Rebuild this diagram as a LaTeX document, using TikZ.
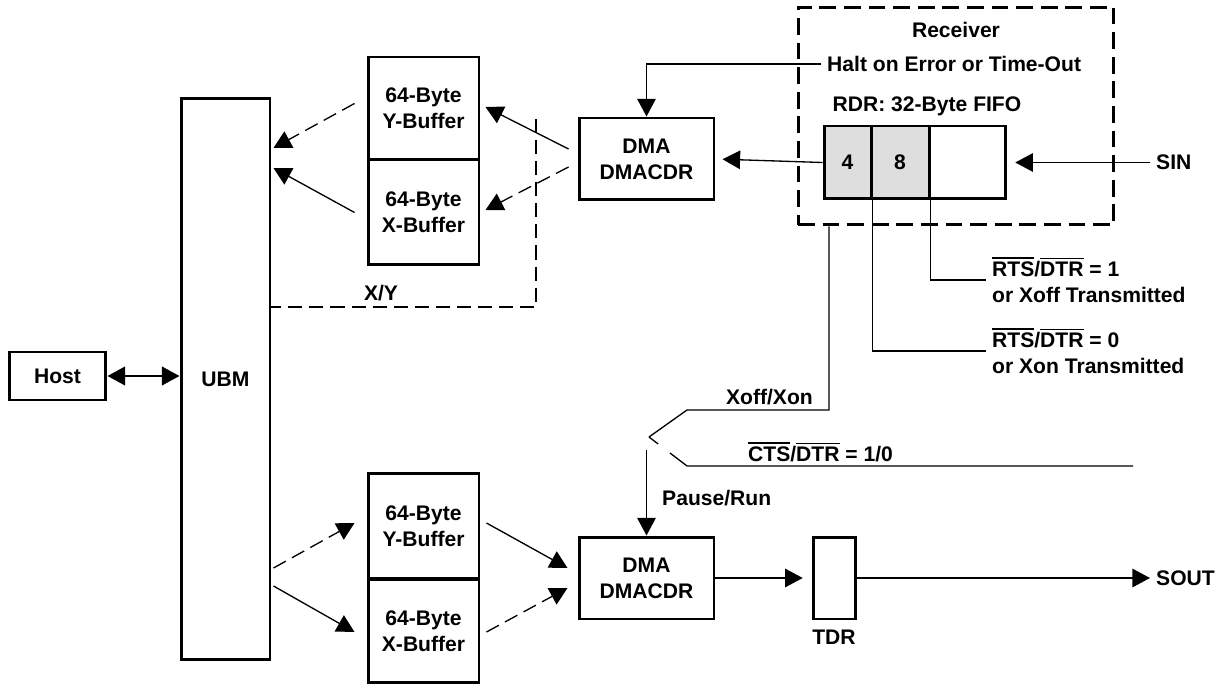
\documentclass[tikz,border=0pt]{standalone}
\usepackage{fontspec}
\setmainfont{Liberation Sans}
\usetikzlibrary{calc}
\usetikzlibrary{positioning}
\usetikzlibrary{arrows.meta}

\newcommand{\topbar}[1]{\leavevmode\vbox{\hrule height 1pt \kern 1.4pt \hbox{#1}}}

\begin{document}
\begin{tikzpicture}[x=0.02cm, y=-0.02cm,
        font=\fontsize{12}{14.8}\selectfont\bfseries,
        blk/.style={draw, line width=1.7pt, align=center, inner sep=0pt},
        wire/.style={line width=0.75pt},
        dwire/.style={line width=0.75pt, dash pattern=on 8pt off 4pt},
        tip/.style={-{Triangle[length=10pt,width=10.5pt]}}]

            \useasboundingbox (0,0) rectangle (1220,685);

            % Host and UBM
            \node[blk, minimum width=1.94cm, minimum height=0.96cm] (host) at (57.5,376) {Host};
            \node[blk, minimum width=1.78cm, minimum height=11.24cm] (ubm) at (225.5,379) {UBM};
            \draw[line width=1.4pt, {Triangle[length=10pt,width=10.5pt]}-{Triangle[length=10pt,width=10.5pt]}] (host.east) -- (host.east -| ubm.west);

            % Buffer stacks
            \foreach \s/\ya/\ha/\yb/\hb in {U/108.5/2.06/212.5/2.1, L/526/2.12/631/2.08} {
                \node[blk, minimum width=2.22cm, minimum height=\ha cm] (ybuf\s) at (423.5,\ya) {64-Byte\\Y-Buffer};
                \node[blk, minimum width=2.22cm, minimum height=\hb cm] (xbuf\s) at (423.5,\yb) {64-Byte\\X-Buffer};
            }

            % DMA blocks and TDR
            \node[blk, minimum width=2.7cm, minimum height=1.64cm] (dmaU) at (646.5,159) {DMA\\DMACDR};
            \node[blk, minimum width=2.7cm, minimum height=1.64cm] (dmaL) at (646.5,578) {DMA\\DMACDR};
            \node[blk, minimum width=0.84cm, minimum height=1.64cm] (tdr) at (834,578) {};
            \node (tdrl) at (834,637) {TDR};

            % Receiver
            \node[draw, line width=1.7pt, dash pattern=on 9.5pt off 4.5pt, minimum width=6.32cm, minimum height=4.36cm] (rcv) at (956,116) {};
            \node (rcvl) at (956,30) {Receiver};
            \node[anchor=west] (halt) at (821,64) {Halt on Error or Time-Out};
            \node (rdrl) at (927,106) {RDR: 32-Byte FIFO};

            % FIFO cells
            \node[blk, fill=black!13, minimum width=0.94cm, minimum height=1.46cm] (c4) at (847.5,162.5) {4};
            \node[blk, fill=black!13, minimum width=1.16cm, minimum height=1.46cm] (c8) at (900,162.5) {8};
            \node[blk, minimum width=1.52cm, minimum height=1.46cm] (cE) at (967,162.5) {};

            % Receive path
            \draw[wire, tip] (halt.west) -| (dmaU.north);
            \draw[wire, tip, shorten >=4pt] (c4.west) -- (dmaU.east);
            \node[anchor=west] (sin) at (1150,162.5) {SIN};
            \draw[wire, tip, shorten >=5pt] (sin.west) -- (sin.west -| cE.east);

            % Flow control outputs
            \node[anchor=west, align=left] (rts1) at (986,280) {\topbar{RTS}/\topbar{DTR} = 1\\or Xoff Transmitted};
            \node[anchor=west, align=left] (rts0) at (986,351) {\topbar{RTS}/\topbar{DTR} = 0\\or Xon Transmitted};
            \draw[wire] (c8.south east) |- (rts1.west);
            \draw[wire] (c4.south east) |- (rts0.west);

            % Xoff/Xon switch
            \coordinate (xcorner) at (829,410);
            \coordinate (xbend) at (687,410);
            \coordinate (pivot) at (649,437);
            \coordinate (ctsbend) at (687,466);
            \coordinate (ctsend) at (1133,466);
            \draw[wire] (xcorner |- rcv.south) -- (xcorner) -- (xbend) -- (pivot);
            \draw[wire] (ctsend) -- (ctsbend) -- ($(ctsbend)!0.45!(pivot)$);
            \draw[wire] ($(ctsbend)!0.76!(pivot)$) -- (pivot);
            \node[anchor=east] (xoffl) at (819,397) {Xoff/Xon};
            \node[anchor=west] (ctsl) at (742,452) {\topbar{CTS}/\topbar{DTR} = 1/0};

            % Transmit path
            \coordinate (ptop) at (646.5,450);
            \draw[wire, tip] (ptop) -- (dmaL.north);
            \node[anchor=west] (pausel) at (656,498) {Pause/Run};
            \draw[wire, tip, shorten >=5pt] (dmaL.east) -- (tdr.west);
            \node[anchor=west] (sout) at (1150,578) {SOUT};
            \draw[wire, tip] (tdr.east) -- (sout.west);

            % Upper buffer arrows
            \draw[dwire, tip] ($(ybufU.west)+(-12,-5)$) -- ($(ubm.east)+(2,-231)$);
            \draw[wire, tip] ($(xbufU.west)+(-12,0)$) -- ($(ubm.east)+(2,-211)$);
            \draw[wire, tip] ($(dmaU.west)+(-9,-10)$) -- ($(ybufU.east)+(5,-1.5)$);
            \draw[dwire, tip] ($(dmaU.west)+(-9,8)$) -- ($(xbufU.east)+(5,-2.5)$);

            % X/Y select
            \coordinate (xytop) at (536,119);
            \coordinate (xycorner) at (536,307);
            \draw[dwire] (xytop) -- (xycorner) -- (xycorner -| ubm.east);
            \node (xyl) at (381,293) {X/Y};

            % Lower buffer arrows
            \draw[dwire, tip] ($(ubm.east)+(2,189)$) -- ($(ybufL.west)+(-12,-3)$);
            \draw[wire, tip] ($(ubm.east)+(2,207)$) -- ($(xbufL.west)+(-12,1)$);
            \draw[wire, tip] ($(ybufL.east)+(6,-3)$) -- ($(dmaL.west)+(-10,-10)$);
            \draw[dwire, tip] ($(xbufL.east)+(6,1)$) -- ($(dmaL.west)+(-10,10)$);
        \end{tikzpicture}
\end{document}
